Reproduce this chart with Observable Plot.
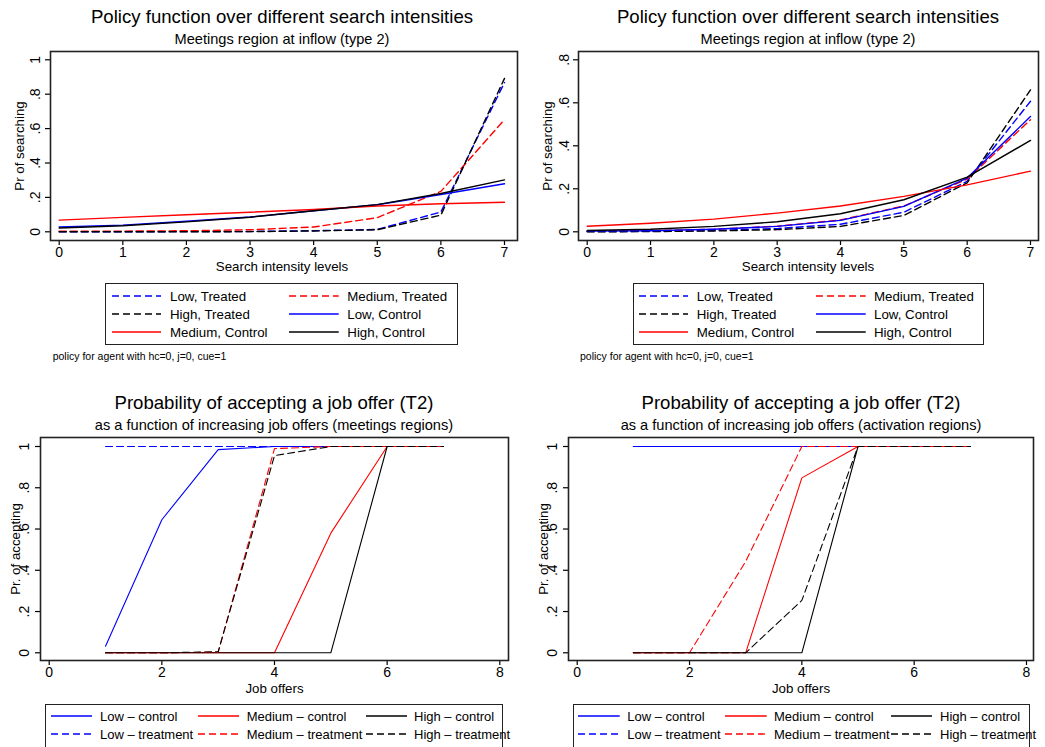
<!DOCTYPE html>
<html>
<head>
<meta charset="utf-8">
<script src="https://cdn.jsdelivr.net/npm/d3@7"></script>
<script src="https://cdn.jsdelivr.net/npm/@observablehq/plot@0.6"></script>
<style>
  html, body { margin: 0; padding: 0; background: #fff; }
  #root { position: relative; width: 1045px; height: 747px; overflow: hidden; background: #fff;
          font-family: "Liberation Sans", Arial, Helvetica, sans-serif; color: #000; }
  .abs { position: absolute; white-space: nowrap; line-height: 1; }
  .box { position: absolute; border: 1px solid #222; box-sizing: border-box; }
  .panel svg { overflow: visible; max-width: none; }
</style>
</head>
<body>
<div id="root"></div>
<script>
// ---------------- DATA ----------------
const searchLevels = [0, 1, 2, 3, 4, 5, 6, 7];
const searchTicks = [0, 1, 2, 3, 4, 5, 6, 7];
const searchTickLabels = ["0", "1", "2", "3", "4", "5", "6", "7"];

// Top-left panel (Pr of searching)
const tlLowTreated   = [0.000, 0.000, 0.001, 0.002, 0.006, 0.014, 0.115, 0.868];
const tlMedTreated   = [0.003, 0.004, 0.006, 0.012, 0.028, 0.082, 0.235, 0.652];
const tlHighTreated  = [0.000, 0.000, 0.000, 0.001, 0.005, 0.012, 0.097, 0.892];
const tlLowControl   = [0.028, 0.039, 0.061, 0.086, 0.122, 0.157, 0.217, 0.279];
const tlMedControl   = [0.068, 0.084, 0.099, 0.114, 0.130, 0.150, 0.163, 0.172];
const tlHighControl  = [0.022, 0.035, 0.058, 0.085, 0.122, 0.158, 0.223, 0.302];
const tlYTicks = [0, 0.2, 0.4, 0.6, 0.8, 1];
const tlYTickLabels = ["0", ".2", ".4", ".6", ".8", "1"];

// Top-right panel (Pr of searching)
const trLowTreated   = [0.001, 0.002, 0.006, 0.015, 0.035, 0.091, 0.235, 0.607];
const trMedTreated   = [0.003, 0.005, 0.012, 0.026, 0.055, 0.120, 0.245, 0.521];
const trHighTreated  = [0.000, 0.001, 0.004, 0.010, 0.025, 0.076, 0.228, 0.660];
const trLowControl   = [0.003, 0.005, 0.012, 0.025, 0.053, 0.118, 0.250, 0.536];
const trMedControl   = [0.026, 0.040, 0.059, 0.087, 0.120, 0.165, 0.218, 0.282];
const trHighControl  = [0.006, 0.012, 0.025, 0.047, 0.084, 0.149, 0.254, 0.425];
const trYTicks = [0, 0.2, 0.4, 0.6, 0.8];
const trYTickLabels = ["0", ".2", ".4", ".6", ".8"];

// Bottom panels (Pr. of accepting)
const jobOffers = [1, 2, 3, 4, 5, 6, 7];
const offerTicks = [0, 2, 4, 6, 8];
const offerTickLabels = ["0", "2", "4", "6", "8"];
const accYTicks = [0, 0.2, 0.4, 0.6, 0.8, 1];
const accYTickLabels = ["0", ".2", ".4", ".6", ".8", "1"];

const blLowControl   = [0.032, 0.645, 0.985, 1, 1, 1, 1];
const blMedControl   = [0, 0, 0, 0, 0.58, 1, 1];
const blHighControl  = [0, 0, 0, 0, 0, 1, 1];
const blLowTreat     = [1, 1, 1, 1, 1, 1, 1];
const blMedTreat     = [0, 0, 0.003, 0.99, 1, 1, 1];
const blHighTreat    = [0, 0, 0.005, 0.956, 1, 1, 1];

const brLowControl   = [1, 1, 1, 1, 1, 1, 1];
const brMedControl   = [0, 0, 0, 0.848, 1, 1, 1];
const brHighControl  = [0, 0, 0, 0, 1, 1, 1];
const brLowTreat     = [1, 1, 1, 1, 1, 1, 1];
const brMedTreat     = [0, 0, 0.443, 1, 1, 1, 1];
const brHighTreat    = [0, 0, 0, 0.254, 1, 1, 1];

// Legend labels (in drawing order)
const searchLegend = ["Low, Treated", "Medium, Treated", "High, Treated", "Low, Control", "Medium, Control", "High, Control"];
const searchColors = ["blue", "red", "black", "blue", "red", "black"];
const searchDashed = [true, true, true, false, false, false];

const offerLegend = ["Low \u2013 control", "Medium \u2013 control", "High \u2013 control", "Low \u2013 treatment", "Medium \u2013 treatment", "High \u2013 treatment"];
const offerColors = ["blue", "red", "black", "blue", "red", "black"];
const offerDashed = [false, false, false, true, true, true];

// ---------------- RENDER ----------------
const root = document.getElementById("root");
const FONT = '"Liberation Sans", Arial, Helvetica, sans-serif';
const DASH = "7,4";

function text(x, baseline, str, size, anchor = "middle") {
  const d = document.createElement("div");
  d.className = "abs";
  d.textContent = str;
  d.style.fontSize = size + "px";
  d.style.left = x + "px";
  d.style.top = (baseline - 0.8465 * size) + "px";
  if (anchor === "middle") d.style.transform = "translateX(-50%)";
  root.appendChild(d);
}
function vtext(baselineX, cy, str, size) {
  const d = document.createElement("div");
  d.className = "abs";
  d.textContent = str;
  d.style.fontSize = size + "px";
  d.style.left = (baselineX - 0.3465 * size) + "px";
  d.style.top = cy + "px";
  d.style.transform = "translate(-50%,-50%) rotate(-90deg)";
  root.appendChild(d);
}

function panel(o) {
  const marks = [
    Plot.axisX(o.xTicks, {tickFormat: d => o.xLabels[o.xTicks.indexOf(d)], tickSize: 5, tickPadding: o.xPad, label: null, strokeWidth: 1.2}),
    Plot.axisY(o.yTicks, {tickFormat: d => o.yLabels[o.yTicks.indexOf(d)], tickSize: 5, tickRotate: -90, tickPadding: o.yPad, label: null, strokeWidth: 1.2}),
    ...o.series.map(s => Plot.line(s.x.map((x, i) => ({x, y: s.y[i]})), {
      x: "x", y: "y", stroke: s.color, strokeWidth: o.sw,
      strokeDasharray: s.dashed ? DASH : null
    })),
    Plot.frame({stroke: "#222", strokeWidth: 1.6})
  ];
  const svg = Plot.plot({
    width: o.width, height: o.height,
    marginLeft: o.mL, marginRight: o.mR, marginTop: o.mT, marginBottom: o.mB,
    x: {domain: o.xDomain, insetLeft: o.xInset[0], insetRight: o.xInset[1]},
    y: {domain: o.yDomain, insetTop: o.yInset[0], insetBottom: o.yInset[1]},
    style: {fontSize: "14px", fontFamily: FONT, background: "transparent", color: "#000", overflow: "visible"},
    marks
  });
  const wrap = document.createElement("div");
  wrap.className = "panel";
  wrap.style.position = "absolute";
  wrap.style.left = o.left + "px";
  wrap.style.top = o.top + "px";
  wrap.style.width = o.width + "px";
  wrap.style.height = o.height + "px";
  wrap.appendChild(svg);
  root.appendChild(wrap);
}

function legend(box, cols, rows, labels, colors, dashed, size) {
  const b = document.createElement("div");
  b.className = "box";
  b.style.left = box[0] + "px"; b.style.top = box[1] + "px";
  b.style.width = box[2] + "px"; b.style.height = box[3] + "px";
  root.appendChild(b);
  const ncol = cols.length;
  labels.forEach((lab, i) => {
    const c = cols[i % ncol], r = rows[Math.floor(i / ncol)];
    const s = document.createElementNS("http://www.w3.org/2000/svg", "svg");
    s.setAttribute("width", c[1] - c[0]); s.setAttribute("height", 6);
    s.style.position = "absolute";
    s.style.left = c[0] + "px"; s.style.top = (r[1] - 3) + "px";
    const ln = document.createElementNS("http://www.w3.org/2000/svg", "line");
    ln.setAttribute("x1", 0); ln.setAttribute("x2", c[1] - c[0]);
    ln.setAttribute("y1", 3); ln.setAttribute("y2", 3);
    ln.setAttribute("stroke", colors[i]); ln.setAttribute("stroke-width", 1.3);
    if (dashed[i]) ln.setAttribute("stroke-dasharray", DASH);
    s.appendChild(ln);
    root.appendChild(s);
    text(c[2], r[0], lab, size, "start");
  });
}

function mk(xs, arrs) {
  return arrs.map((y, i) => ({x: xs, y, color: null}));
}

// --- Top-left ---
const tlSeries = [tlLowTreated, tlMedTreated, tlHighTreated, tlLowControl, tlMedControl, tlHighControl]
  .map((y, i) => ({x: searchLevels, y, color: searchColors[i], dashed: searchDashed[i]}));
panel({left: 0, top: 0, width: 520, height: 260, mL: 50, mR: 3, mT: 51, mB: 20,
  xDomain: [0, 7], xInset: [8.7, 13], yDomain: [0, 1], yInset: [8.3, 8.7],
  xTicks: searchTicks, xLabels: searchTickLabels, yTicks: tlYTicks, yLabels: tlYTickLabels,
  xPad: 2, yPad: 5.5, sw: 1.4, series: tlSeries});

// --- Top-right ---
const trSeries = [trLowTreated, trMedTreated, trHighTreated, trLowControl, trMedControl, trHighControl]
  .map((y, i) => ({x: searchLevels, y, color: searchColors[i], dashed: searchDashed[i]}));
panel({left: 520, top: 0, width: 525, height: 260, mL: 58, mR: 7, mT: 51, mB: 20,
  xDomain: [0, 7], xInset: [8.7, 8], yDomain: [0, 0.8], yInset: [8.3, 8.7],
  xTicks: searchTicks, xLabels: searchTickLabels, yTicks: trYTicks, yLabels: trYTickLabels,
  xPad: 2, yPad: 5, sw: 1.4, series: trSeries});

// --- Bottom-left ---
const blSeries = [blLowControl, blMedControl, blHighControl, blLowTreat, blMedTreat, blHighTreat]
  .map((y, i) => ({x: jobOffers, y, color: offerColors[i], dashed: offerDashed[i]}));
panel({left: 0, top: 380, width: 520, height: 300, mL: 40, mR: 12, mT: 57, mB: 20,
  xDomain: [0, 8], xInset: [8.7, 8.7], yDomain: [0, 1], yInset: [9, 7.7],
  xTicks: offerTicks, xLabels: offerTickLabels, yTicks: accYTicks, yLabels: accYTickLabels,
  xPad: 2, yPad: 7, sw: 1.1, series: blSeries});

// --- Bottom-right ---
const brSeries = [brLowControl, brMedControl, brHighControl, brLowTreat, brMedTreat, brHighTreat]
  .map((y, i) => ({x: jobOffers, y, color: offerColors[i], dashed: offerDashed[i]}));
panel({left: 520, top: 380, width: 525, height: 300, mL: 48, mR: 12, mT: 57, mB: 20,
  xDomain: [0, 8], xInset: [8.7, 7], yDomain: [0, 1], yInset: [9, 7.7],
  xTicks: offerTicks, xLabels: offerTickLabels, yTicks: accYTicks, yLabels: accYTickLabels,
  xPad: 2, yPad: 7, sw: 1.1, series: brSeries});

// --- Titles ---
const T = 18.6, S = 14.6, A = 13.3;
text(282, 24, "Policy function over different search intensities", T);
text(282, 44.3, "Meetings region at inflow (type 2)", S);
text(808, 24, "Policy function over different search intensities", T);
text(808, 44.3, "Meetings region at inflow (type 2)", S);
text(274, 410, "Probability of accepting a job offer (T2)", T);
text(274, 430.5, "as a function of increasing job offers (meetings regions)", S);
text(801, 410, "Probability of accepting a job offer (T2)", T);
text(801, 430.5, "as a function of increasing job offers (activation regions)", S);

// --- Axis titles ---
text(282, 271.5, "Search intensity levels", A);
text(808, 271.5, "Search intensity levels", A);
text(274.5, 693, "Job offers", A);
text(801, 693, "Job offers", A);
vtext(24.5, 145.5, "Pr of searching", A);
vtext(553, 145.5, "Pr of searching", A);
vtext(20.7, 548.5, "Pr. of accepting", A);
vtext(549, 548.5, "Pr. of accepting", A);

// --- Legends ---
legend([105.3, 283.3, 352.4, 61.7],
  [[111.7, 161, 170], [289.3, 339, 347.3]],
  [[301.2, 295.7], [319.3, 314], [337.5, 332.4]],
  searchLegend, searchColors, searchDashed, 13.3);
legend([633.3, 283.3, 351, 61.7],
  [[639.3, 688.3, 696.7], [816, 865.7, 874]],
  [[301.2, 295.7], [319.3, 314], [337.5, 332.4]],
  searchLegend, searchColors, searchDashed, 13.3);
legend([45, 704, 458.3, 70],
  [[50.7, 91.7, 100], [197.7, 239, 246.7], [365.7, 406.7, 414]],
  [[720.7, 715.7], [739, 734]],
  offerLegend, offerColors, offerDashed, 13);
legend([572.7, 704, 457.3, 70],
  [[578.3, 620, 627.3], [725, 766.7, 774], [891, 932.3, 940]],
  [[720.7, 715.7], [739, 734]],
  offerLegend, offerColors, offerDashed, 13);

// --- Notes ---
text(52.7, 359.5, "policy for agent with hc=0, j=0, cue=1", 10.5, "start");
text(580, 359.5, "policy for agent with hc=0, j=0, cue=1", 10.5, "start");
</script>
</body>
</html>
